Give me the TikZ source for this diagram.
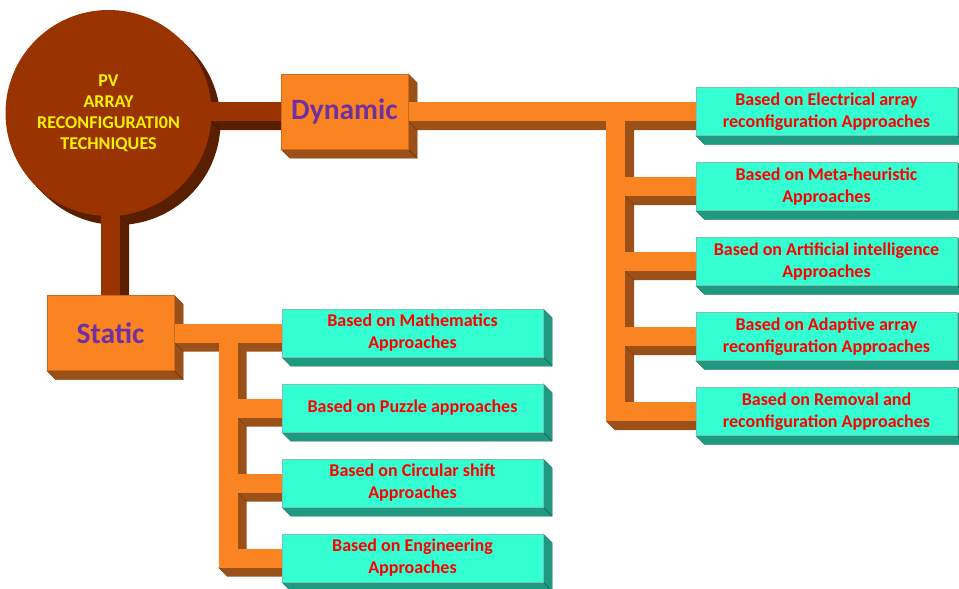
\documentclass[tikz,border=0pt]{standalone}
\usepackage{fontspec}
\setmainfont{Carlito}
\usetikzlibrary{calc}
\pgfdeclarelayer{sides}
\pgfdeclarelayer{barsides}
\pgfdeclarelayer{barfronts}
\pgfsetlayers{sides,barsides,barfronts,main}

\definecolor{brownface}{HTML}{993300}
\definecolor{brownside}{HTML}{5A1E00}
\definecolor{orangeface}{HTML}{FB8422}
\definecolor{orangeside}{HTML}{9A5016}
\definecolor{tealface}{HTML}{33FFD3}
\definecolor{tealside}{HTML}{1F9A80}
\definecolor{txtpurple}{HTML}{7030A0}

\newcommand{\extr}{9}   % depth of the 3D look
\newcommand{\barw}{9.5} % half width of a bar

% horizontal bar: [where its side starts]{from}{to}{face}{side}
\newcommand{\hconn}[5][0]{%
  \begin{pgfonlayer}{barsides}
    \fill[#5] ($(#2)+(#1,\barw)$) -- ++(\extr,\extr) -- ($(#3)+(0,\barw+\extr)$) -- ($(#3)+(0,\barw)$) -- cycle;
    \draw[#5!60!black, line width=0.3pt] ($(#2)+(#1,\barw)$) -- ++(\extr,\extr);
  \end{pgfonlayer}
  \begin{pgfonlayer}{barfronts}
    \fill[#4] ($(#2)+(0,-\barw)$) rectangle ($(#3)+(0,\barw)$);
  \end{pgfonlayer}}

% vertical bar: [where its side starts]{from}{to}{face}{side}
\newcommand{\vconn}[5][0]{%
  \begin{pgfonlayer}{barsides}
    \fill[#5] ($(#2)+(\barw,#1)$) -- ++(\extr,\extr) -- ($(#3)+(\barw+\extr,0)$) -- ($(#3)+(\barw,0)$) -- cycle;
    \draw[#5!60!black, line width=0.3pt] ($(#2)+(\barw,#1)$) -- ++(\extr,\extr);
  \end{pgfonlayer}
  \begin{pgfonlayer}{barfronts}
    \fill[#4] ($(#2)+(-\barw,0)$) rectangle ($(#3)+(\barw,\barw)$);
  \end{pgfonlayer}}

\begin{document}
\begin{tikzpicture}[x=1pt, y=-1pt,
    disc/.style={circle, fill=brownface, minimum size=206, inner sep=0, align=center,
        text=yellow, font=\fontsize{18}{21}\selectfont\bfseries},
    mainbox/.style={rectangle, fill=orangeface, draw=orangeface!80!black, line width=0.4pt,
        minimum width=127, minimum height=75, inner sep=0, text=txtpurple,
        font=\fontsize{29.5}{34}\selectfont\bfseries},
    leafbox/.style={rectangle, fill=tealface, draw=tealside!60, line width=0.4pt,
        minimum width=261, minimum height=48, inner sep=0, align=center, text=red,
        font=\fontsize{18}{22}\selectfont\bfseries}]
    \useasboundingbox (0,0) rectangle (959,589);

    \node[disc] (pv) at (108.5,113) {PV\\ARRAY\\RECONFIGURATI0N\\TECHNIQUES};
    \node[mainbox] (dyn) at (344.5,111.5) {Dynamic};
    \node[mainbox] (stat) at (110.5,333) {Static};

    \node[leafbox] (elec) at (826.5,111.5) {Based on Electrical array\\reconfiguration Approaches};
    \node[leafbox] (meta) at (826.5,186.5) {Based on Meta-heuristic\\Approaches};
    \node[leafbox] (ai) at (826.5,261.5) {Based on Artificial intelligence\\Approaches};
    \node[leafbox] (adapt) at (826.5,336.5) {Based on Adaptive array\\reconfiguration Approaches};
    \node[leafbox] (remov) at (826.5,411.5) {Based on Removal and\\reconfiguration Approaches};

    \node[leafbox] (math) at (412.5,333) {Based on Mathematics\\Approaches};
    \node[leafbox] (puzzle) at (412.5,408) {Based on Puzzle approaches};
    \node[leafbox] (circ) at (412.5,483) {Based on Circular shift\\Approaches};
    \node[leafbox] (engg) at (412.5,558) {Based on Engineering\\Approaches};

    % extruded sides
    \begin{pgfonlayer}{sides}
        \fill[brownside] ($(pv.center)+(\extr,\extr)$) circle[radius=103];
        \fill[brownside] (pv.north east) -- ++(\extr,\extr) -- ($(pv.south west)+(\extr,\extr)$) -- (pv.south west) -- cycle;
        \foreach \n/\c in {dyn/orangeside, stat/orangeside, elec/tealside, meta/tealside, ai/tealside,
                adapt/tealside, remov/tealside, math/tealside, puzzle/tealside, circ/tealside, engg/tealside} {
            \fill[\c, draw=\c!70!black, line width=0.4pt] (\n.south west) -- ++(\extr,\extr)
                -- ($(\n.south east)+(\extr,\extr)$) -- ($(\n.north east)+(\extr,\extr)$)
                -- (\n.north east) -- (\n.south east) -- cycle;
            \draw[\c!60!black, line width=0.4pt] (\n.south east) -- ++(\extr,\extr);
        }
    \end{pgfonlayer}

    % bars from the circle
    \hconn[102.7]{pv.center |- dyn.west}{dyn.west}{brownface}{brownside}
    \vconn[102.4]{pv.center -| stat.north}{stat.north}{brownface}{brownside}

    % dynamic branch
    \coordinate (dj) at (615.5,111.5);
    \hconn{dyn.east}{elec.west}{orangeface}{orangeside}
    \vconn{dj}{dj |- remov.west}{orangeface}{orangeside}
    \foreach \b in {meta, ai, adapt} {
        \hconn[\barw]{dj |- \b.west}{\b.west}{orangeface}{orangeside}
    }
    \hconn[-\barw]{dj |- remov.west}{remov.west}{orangeface}{orangeside}

    % static branch
    \coordinate (sj) at (228,333);
    \hconn{stat.east}{math.west}{orangeface}{orangeside}
    \vconn{sj}{sj |- engg.west}{orangeface}{orangeside}
    \foreach \b in {puzzle, circ} {
        \hconn[\barw]{sj |- \b.west}{\b.west}{orangeface}{orangeside}
    }
    \hconn[-\barw]{sj |- engg.west}{engg.west}{orangeface}{orangeside}
\end{tikzpicture}
\end{document}
